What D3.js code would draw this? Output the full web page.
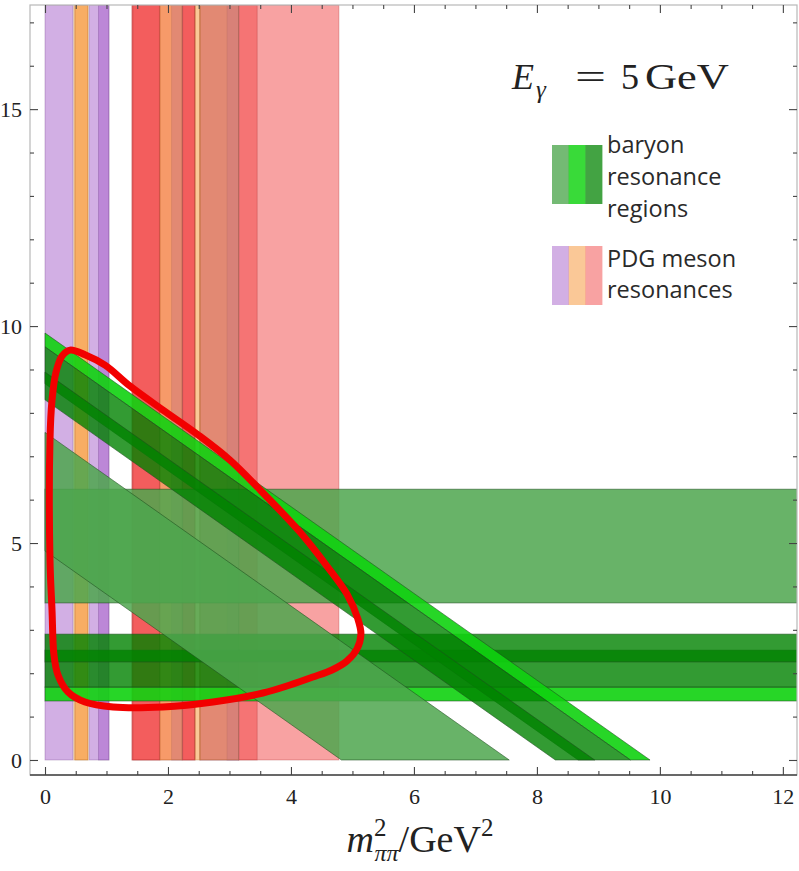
<!DOCTYPE html>
<html><head><meta charset="utf-8">
<script src="https://cdn.jsdelivr.net/npm/d3@7"></script>
<style>html,body{margin:0;padding:0;background:#fff;} svg{display:block;}</style>
</head><body>
<svg id="chart" width="799" height="871"></svg>
<script>
// ---- axis ticks ----
const xMajorTicks = [0, 2, 4, 6, 8, 10, 12];
const yMajorTicks = [0, 5, 10, 15];
const xMinorTicks = [0.5,1,1.5,2.5,3,3.5,4.5,5,5.5,6.5,7,7.5,8.5,9,9.5,10.5,11,11.5];
const yMinorTicks = [1,2,3,4,6,7,8,9,11,12,13,14,16,17];

// ---- PDG meson resonances: m²ππ interval (GeV²) and spin family (drawn in this order) ----
const mesonLo   = [1.415, 1.415, 1.43, 2.23, 2.24, 2.52, 3.15,
                   0.00, 0.72, 0.87, 2.06, 2.52, 2.96,
                   0.47, 0.49, 1.87, 2.44, 2.52];
const mesonHi   = [2.44, 1.87, 1.86, 2.44, 2.43, 4.78, 3.45,
                   0.455, 1.04, 1.04, 2.23, 3.15, 3.15,
                   0.70, 0.70, 2.23, 2.52, 3.15];
const mesonKind = ["tensor","tensor","tensor","tensor","tensor","tensor","tensor",
                   "scalar","scalar","scalar","scalar","scalar","scalar",
                   "vector","vector","vector","vector","vector"];

// ---- baryon resonance regions in m²πp (horizontal) ----
const hBandLo   = [3.62, 1.36, 1.68, 2.26];
const hBandHi   = [6.24, 1.68, 2.53, 2.90];
const hBandKind = ["high", "delta", "second", "second"];

// ---- baryon resonance regions in the other πp pair (m²ππ + m²πp = const) ----
const dBandLo   = [4.82, 9.52, 8.67, 8.30];
const dBandHi   = [7.55, 9.84, 9.52, 8.94];
const dBandKind = ["high", "delta", "second", "second"];

// ---- Dalitz boundary ----
const contourX = [0.407, 0.650, 0.976, 1.382, 1.919, 2.472, 3.008, 3.626, 4.146, 4.585, 4.911, 5.089, 5.138, 5.073, 4.911, 4.667, 4.358, 3.984, 3.545, 2.732, 1.919, 1.106, 0.650, 0.374, 0.211, 0.146, 0.114, 0.081, 0.081, 0.114, 0.179, 0.276];
const contourY = [9.447, 9.340, 9.100, 8.618, 8.065, 7.512, 6.912, 6.037, 5.253, 4.470, 3.825, 3.249, 2.903, 2.558, 2.281, 2.074, 1.912, 1.728, 1.544, 1.336, 1.221, 1.221, 1.336, 1.567, 1.959, 2.419, 3.456, 4.608, 7.373, 8.295, 8.940, 9.309];

// ---- legend ----
const legendBaryonKinds = ["high", "delta", "second"];
const legendMesonKinds = ["scalar", "vector", "tensor"];
const legendBaryonText = ["baryon", "resonance", "regions"];
const legendMesonText = ["PDG meson", "resonances"];

const svg = d3.select("#chart");
const L = 30, R = 797, T = 5, B = 775;
const x = d3.scaleLinear().domain([-0.244, 12.23]).range([L, R]);
const y = d3.scaleLinear().domain([-0.346, 17.4]).range([B, T]);

const mesonColor = d3.scaleOrdinal().domain(["scalar","vector","tensor"]).range(["#a55fc9","#f59130","#f14545"]);
const baryonColor = d3.scaleOrdinal().domain(["high","delta","second"]).range(["#4da64d","#10d210","#008200"]);
const baryonAlpha = d3.scaleOrdinal().domain(["high","delta","second"]).range([0.85, 0.9, 0.8]);
const mesonAlpha = 0.5;

svg.append("defs").append("clipPath").attr("id", "plot")
  .append("rect").attr("x", L).attr("y", T).attr("width", R - L).attr("height", B - T);

const plot = svg.append("g").attr("clip-path", "url(#plot)");

// meson bands
const mesons = mesonLo.map((lo, i) => ({lo, hi: mesonHi[i], kind: mesonKind[i]}));
plot.append("g").selectAll("rect").data(mesons).join("rect")
  .attr("x", d => x(d.lo)).attr("width", d => x(d.hi) - x(d.lo))
  .attr("y", y(y.domain()[1])).attr("height", y(0) - y(y.domain()[1]))
  .attr("fill", d => mesonColor(d.kind)).attr("fill-opacity", mesonAlpha)
  .attr("stroke", d => d3.color(mesonColor(d.kind)).darker(1)).attr("stroke-opacity", 0.4).attr("stroke-width", 0.8);

// horizontal baryon bands
const hBands = hBandLo.map((lo, i) => ({lo, hi: hBandHi[i], kind: hBandKind[i]}));
plot.append("g").selectAll("rect").data(hBands).join("rect")
  .attr("x", x(0)).attr("width", x(x.domain()[1]) - x(0) + 5)
  .attr("y", d => y(d.hi)).attr("height", d => y(d.lo) - y(d.hi))
  .attr("fill", d => baryonColor(d.kind)).attr("fill-opacity", d => baryonAlpha(d.kind))
  .attr("stroke", "#1d4d1d").attr("stroke-opacity", 0.55).attr("stroke-width", 1);

// diagonal baryon bands
const dBands = dBandLo.map((lo, i) => ({lo, hi: dBandHi[i], kind: dBandKind[i]}));
plot.append("g").selectAll("path").data(dBands).join("path")
  .attr("d", d => d3.line()([[x(0), y(d.lo)], [x(0), y(d.hi)], [x(d.hi), y(0)], [x(d.lo), y(0)]]) + "Z")
  .attr("fill", d => baryonColor(d.kind)).attr("fill-opacity", d => baryonAlpha(d.kind))
  .attr("stroke", "#1d4d1d").attr("stroke-opacity", 0.55).attr("stroke-width", 1);

// Dalitz boundary
const contour = contourX.map((cx, i) => [x(cx), y(contourY[i])]);
plot.append("path")
  .attr("d", d3.line().curve(d3.curveCatmullRomClosed.alpha(0.5))(contour))
  .attr("fill", "none").attr("stroke", "#f20000").attr("stroke-width", 7).attr("stroke-linejoin", "round");

// frame
svg.append("rect").attr("x", L).attr("y", T).attr("width", R - L).attr("height", B - T)
  .attr("fill", "none").attr("stroke", "#b8b8b8").attr("stroke-width", 1.2);
svg.append("line").attr("x1", L).attr("x2", R).attr("y1", B).attr("y2", B)
  .attr("stroke", "#444").attr("stroke-width", 1.6);

function styleAxis(g) {
  g.select(".domain").remove();
  g.selectAll(".tick line").attr("stroke", "#444").attr("stroke-width", 1.1);
  g.selectAll("text").attr("font-family", "Liberation Serif, serif").attr("font-size", 22).attr("fill", "#222");
}
const fmt = d3.format("d");
svg.append("g").attr("transform", `translate(0,${B})`)
  .call(d3.axisBottom(x).tickValues(xMajorTicks).tickSize(-8).tickPadding(13).tickFormat(fmt)).call(styleAxis);
svg.append("g").attr("transform", `translate(0,${B})`)
  .call(d3.axisBottom(x).tickValues(xMinorTicks).tickSize(-4).tickFormat("")).call(styleAxis);
svg.append("g").attr("transform", `translate(0,${T})`)
  .call(d3.axisTop(x).tickValues(xMajorTicks).tickSize(-8).tickFormat("")).call(styleAxis);
svg.append("g").attr("transform", `translate(0,${T})`)
  .call(d3.axisTop(x).tickValues(xMinorTicks).tickSize(-4).tickFormat("")).call(styleAxis);
svg.append("g").attr("transform", `translate(${L},0)`)
  .call(d3.axisLeft(y).tickValues(yMajorTicks).tickSize(-8).tickPadding(8).tickFormat(fmt)).call(styleAxis);
svg.append("g").attr("transform", `translate(${L},0)`)
  .call(d3.axisLeft(y).tickValues(yMinorTicks).tickSize(-4).tickFormat("")).call(styleAxis);
svg.append("g").attr("transform", `translate(${R},0)`)
  .call(d3.axisRight(y).tickValues(yMajorTicks).tickSize(-8).tickFormat("")).call(styleAxis);
svg.append("g").attr("transform", `translate(${R},0)`)
  .call(d3.axisRight(y).tickValues(yMinorTicks).tickSize(-4).tickFormat("")).call(styleAxis);

// axis title: m²ππ / GeV²
const title = svg.append("text").attr("x", 420).attr("y", 852).attr("text-anchor", "middle")
  .attr("font-family", "Liberation Serif, serif").attr("font-size", 38).attr("fill", "#222");
title.append("tspan").attr("font-style", "italic").text("m");
title.append("tspan").attr("font-size", 25).attr("dy", -16).text("2");
title.append("tspan").attr("font-size", 24).attr("font-style", "italic").attr("dx", -12).attr("dy", 25).text("ππ");
title.append("tspan").attr("dy", -9).text("/GeV");
title.append("tspan").attr("font-size", 25).attr("dy", -16).text("2");

// energy label
const eg = svg.append("g").attr("font-family", "Liberation Serif, serif").attr("fill", "#222");
eg.append("text").attr("x", 512).attr("y", 89).attr("font-size", 36).attr("font-style", "italic").text("E");
eg.append("text").attr("x", 536).attr("y", 98).attr("font-size", 25).attr("font-style", "italic").text("γ");
eg.append("text").attr("x", 575).attr("y", 89).attr("font-size", 36).attr("textLength", 31).attr("lengthAdjust", "spacingAndGlyphs").text("=");
eg.append("text").attr("x", 621).attr("y", 89).attr("font-size", 36).text("5");
eg.append("text").attr("x", 645).attr("y", 89).attr("font-size", 36).attr("textLength", 84).attr("lengthAdjust", "spacingAndGlyphs").text("GeV");

// legend swatches
const sw = 16.7;
const lg = svg.append("g");
lg.selectAll("rect.b").data(legendBaryonKinds).join("rect").attr("class", "b")
  .attr("x", (d, i) => 552 + i * sw).attr("y", 145).attr("width", sw + 0.3).attr("height", 59)
  .attr("fill", d => baryonColor(d)).attr("fill-opacity", d => baryonAlpha(d) * 0.92);
lg.selectAll("rect.m").data(legendMesonKinds).join("rect").attr("class", "m")
  .attr("x", (d, i) => 552 + i * sw).attr("y", 246).attr("width", sw + 0.3).attr("height", 59)
  .attr("fill", d => mesonColor(d)).attr("fill-opacity", mesonAlpha);
lg.selectAll("text.b").data(legendBaryonText).join("text").attr("class", "b")
  .attr("x", 607).attr("y", (d, i) => 153 + i * 32)
  .attr("font-family", "Open Sans, sans-serif").attr("font-size", 23.5).attr("fill", "#2a2a2a").text(d => d);
lg.selectAll("text.m").data(legendMesonText).join("text").attr("class", "m")
  .attr("x", 607).attr("y", (d, i) => 267 + i * 31)
  .attr("font-family", "Open Sans, sans-serif").attr("font-size", 23.5).attr("fill", "#2a2a2a").text(d => d);
</script>
</body></html>
